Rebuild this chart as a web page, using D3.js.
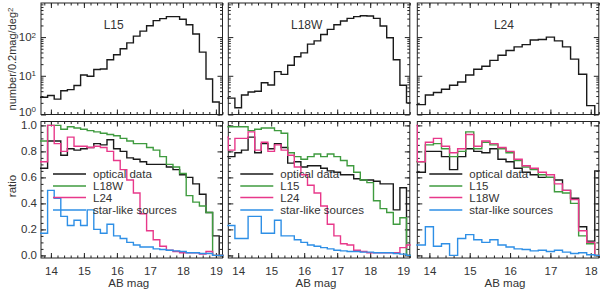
<!DOCTYPE html>
<html><head><meta charset="utf-8">
<script src="https://cdn.jsdelivr.net/npm/d3@7"></script>
<style>
body{margin:0;background:#fff}
svg{display:block}
text{font-family:"Liberation Sans",Arial,Helvetica,sans-serif;fill:#333;font-size:11.5px}
</style></head><body>
<svg id="c" width="600" height="292"></svg>
<script>
// bin centres (0.2 mag bins)
const centersA = [13.6,13.8,14.0,14.2,14.4,14.6,14.8,15.0,15.2,15.4,15.6,15.8,16.0,16.2,16.4,16.6,16.8,17.0,17.2,17.4,17.6,17.8,18.0,18.2,18.4,18.6,18.8,19.0,19.2];
const centersB = [13.6,13.8,14.0,14.2,14.4,14.6,14.8,15.0,15.2,15.4,15.6,15.8,16.0,16.2,16.4,16.6,16.8,17.0,17.2,17.4,17.6,17.8,18.0,18.2];

// number counts (number / 0.2 mag / deg^2)
const countL15  = [2.8,2.8,3.1,2.5,4.1,4.4,5.6,10.5,9.7,14.5,15,26,35,50,71,106,143,196,266,300,337,337,288,208,120,41,8.3,2.1,0];
const countL18W = [2.65,2.65,1.5,3.2,3.8,4.0,6.6,5.8,12.8,10.9,18.7,31,39,66,80,117,158,209,260,305,337,357,350,305,193,96,26,5.7,2.0];
const countL24  = [1.8,1.8,3.2,3.7,4.5,5.7,6.9,10.5,14.7,17.6,25,34,45,56,64,84,87,100,80,56,27,11,1.7,0];

// ratios, L15 panel
const optL15   = [0.67,0.67,0.88,0.88,0.77,0.82,0.81,0.82,0.83,0.86,0.85,0.89,0.82,0.80,0.75,0.74,0.72,0.70,0.70,0.70,0.68,0.66,0.62,0.60,0.55,0.47,0.33,0.15,0];
const l18wL15  = [0.88,0.88,1.0,1.0,0.97,0.99,0.98,0.97,0.96,0.95,0.94,0.93,0.92,0.90,0.88,0.86,0.86,0.83,0.81,0.76,0.70,0.68,0.63,0.46,0.41,0.38,0.33,0,0];
const l24L15   = [0.72,0.72,1.0,0.86,0.80,0.91,0.84,0.84,0.83,0.84,0.83,0.80,0.73,0.66,0.58,0.48,0.32,0.19,0.12,0.07,0.04,0.03,0.02,0.02,0.02,0.01,0.03,0,0];
const starL15  = [0.17,0.17,0.50,0.44,0.30,0.23,0.27,0.23,0.35,0.20,0.17,0.24,0.15,0.13,0.10,0.08,0.065,0.065,0.05,0.045,0.04,0.035,0.03,0.02,0.02,0.015,0.015,0,0];
// ratios, L18W panel
const optL18W  = [0.76,0.76,0.79,0.81,0.91,0.79,0.86,0.82,0.86,0.83,0.71,0.72,0.68,0.69,0.69,0.67,0.65,0.64,0.62,0.62,0.59,0.58,0.58,0.57,0.55,0.55,0.35,0.52,0];
const l15L18W  = [0.99,0.99,0.99,0.99,0.96,0.97,0.98,0.98,0.96,0.94,0.79,0.76,0.74,0.76,0.78,0.76,0.78,0.76,0.73,0.69,0.64,0.58,0.56,0.42,0.36,0.33,0.24,0.29,0];
const l24L18W  = [0.91,0.81,0.90,0.90,0.95,0.81,0.87,0.80,0.85,0.81,0.77,0.68,0.62,0.54,0.48,0.38,0.24,0.15,0.09,0.08,0.04,0.03,0.02,0.02,0.02,0.02,0.02,0.06,0.08];
const starL18W = [0.23,0.23,0.13,0.13,0.30,0.30,0.17,0.17,0.27,0.15,0.15,0.12,0.10,0.08,0.07,0.06,0.05,0.04,0.035,0.03,0.03,0.025,0.025,0.02,0.02,0.02,0.015,0.01,0];
// ratios, L24 panel
const optL24   = [0.64,0.64,0.80,0.80,0.76,0.66,0.76,0.82,0.80,0.79,0.82,0.74,0.72,0.67,0.64,0.62,0.60,0.60,0.58,0.50,0.44,0.22,0.11,0.65];
const l15L24   = [0.72,0.72,0.85,0.86,0.82,0.76,0.80,0.95,0.82,0.87,0.85,0.82,0.79,0.73,0.68,0.66,0.62,0.60,0.49,0.48,0.40,0.15,0.09,0];
const l18wL24  = [1.0,0.72,0.87,0.90,0.84,0.79,0.82,0.93,0.84,0.88,0.86,0.83,0.80,0.74,0.69,0.67,0.64,0.62,0.55,0.50,0.43,0.19,0.10,0];
const starL24  = [0.08,0.08,0.22,0.07,0.09,0.0,0.13,0.16,0.12,0.10,0.12,0.08,0.065,0.05,0.045,0.035,0.04,0.03,0.04,0.025,0.015,0.02,0.005,0];

const xTicksA = [14,15,16,17,18,19];
const xTicksB = [14,15,16,17,18];
const ratioTicks = [0.0,0.2,0.4,0.6,0.8,1.0];
const logTicks = [1,10,100];

const colors = ["#1a1a1a","#3f9b3f","#e8388a","#2e8fe6"];

const panels = [
  {x0:41,    dom:[13.7,19.2], ticks:xTicksA, centers:centersA, counts:countL15,  label:"L15",
   series:[optL15,l18wL15,l24L15,starL15],   names:["optical data","L18W","L24","star-like sources"]},
  {x0:228.3, dom:[13.7,19.2], ticks:xTicksA, centers:centersA, counts:countL18W, label:"L18W",
   series:[optL18W,l15L18W,l24L18W,starL18W], names:["optical data","L15","L24","star-like sources"]},
  {x0:417.3, dom:[13.7,18.2], ticks:xTicksB, centers:centersB, counts:countL24,  label:"L24",
   series:[optL24,l15L24,l18wL24,starL24],   names:["optical data","L15","L18W","star-like sources"]}
];

const W = 181.5;
const topY0 = 3, topY1 = 114.5;
const botY0 = 121.5, botY1 = 258;

const svg = d3.select("#c");
const defs = svg.append("defs");

function minorRange(a, b, step){
  const out=[]; for(let v=a; v<=b+1e-9; v+=step) out.push(+v.toFixed(3)); return out;
}

function axes(g, x, y, h, xMajor, xMinor, yMajor, yMinor, xLabels){
  const clean = s => { s.select(".domain").remove(); s.attr("font-size",null).attr("font-family",null).attr("color","#222"); };
  g.append("g").attr("transform",`translate(0,${h})`).call(d3.axisBottom(x).tickValues(xMajor).tickSize(-5).tickPadding(9).tickFormat(xLabels? d3.format("d") : "")).call(clean);
  g.append("g").attr("transform",`translate(0,${h})`).call(d3.axisBottom(x).tickValues(xMinor).tickSize(-2.5).tickFormat("")).call(clean);
  g.append("g").call(d3.axisTop(x).tickValues(xMajor).tickSize(-5).tickFormat("")).call(clean);
  g.append("g").call(d3.axisTop(x).tickValues(xMinor).tickSize(-2.5).tickFormat("")).call(clean);
  g.append("g").call(d3.axisLeft(y).tickValues(yMajor).tickSize(-5).tickFormat("")).call(clean);
  g.append("g").call(d3.axisLeft(y).tickValues(yMinor).tickSize(-2.5).tickFormat("")).call(clean);
  g.append("g").attr("transform",`translate(${W},0)`).call(d3.axisRight(y).tickValues(yMajor).tickSize(-5).tickFormat("")).call(clean);
  g.append("g").attr("transform",`translate(${W},0)`).call(d3.axisRight(y).tickValues(yMinor).tickSize(-2.5).tickFormat("")).call(clean);
  g.append("rect").attr("width",W).attr("height",h).attr("fill","none").attr("stroke","#222").attr("stroke-width",1);
}

function stepPoints(centers, vals){
  const pts=[];
  centers.forEach((c,i)=>{ pts.push([c-0.1, vals[i]]); pts.push([c+0.1, vals[i]]); });
  return pts;
}

const logMinor = [2,3,4,5,6,7,8,9,20,30,40,50,60,70,80,90,200,300,400,500,600,700];

panels.forEach((p, pi) => {
  const x = d3.scaleLinear().domain(p.dom).range([0, W]);
  const xMinor = minorRange(13.8, p.dom[1], 0.2);

  // ---------- top panel (counts, log) ----------
  const hT = topY1 - topY0;
  const yT = d3.scaleLog().domain([1, 760]).range([hT, 0]);
  const gT = svg.append("g").attr("transform",`translate(${p.x0},${topY0})`);
  defs.append("clipPath").attr("id",`ct${pi}`).append("rect").attr("x",-1).attr("y",-1).attr("width",W+2).attr("height",hT+2);
  axes(gT, x, yT, hT, p.ticks, xMinor, logTicks, logMinor, false);
  const lineT = d3.line().x(d=>x(d[0])).y(d=>yT(Math.max(d[1],0.1)));
  gT.append("path").attr("clip-path",`url(#ct${pi})`)
    .attr("d", lineT(stepPoints(p.centers, p.counts)))
    .attr("fill","none").attr("stroke","#1a1a1a").attr("stroke-width",1.4);
  gT.append("text").attr("x", x(15.6)).attr("y", 22).attr("dy","0.35em").style("font-size","12px").text(p.label);
  if (pi === 0) {
    logTicks.forEach((v,k)=>{
      const t = gT.append("text").attr("x",-5).attr("y",yT(v)).attr("dy", v===1 ? "0.1em" : "0.35em").attr("text-anchor","end");
      t.append("tspan").text("10");
      t.append("tspan").attr("dy","-0.45em").style("font-size","8px").text(String(k));
    });
  }

  // ---------- bottom panel (ratios) ----------
  const hB = botY1 - botY0;
  const yB = d3.scaleLinear().domain([-0.02, 1.03]).range([hB, 0]);
  const gB = svg.append("g").attr("transform",`translate(${p.x0},${botY0})`);
  defs.append("clipPath").attr("id",`cb${pi}`).append("rect").attr("x",-1).attr("y",-1).attr("width",W+2).attr("height",hB+2);
  axes(gB, x, yB, hB, p.ticks, xMinor, ratioTicks, minorRange(0,1,0.05), true);
  const lineB = d3.line().x(d=>x(d[0])).y(d=>yB(d[1]));
  p.series.forEach((s, si) => {
    gB.append("path").attr("clip-path",`url(#cb${pi})`)
      .attr("d", lineB(stepPoints(p.centers, s)))
      .attr("fill","none").attr("stroke",colors[si]).attr("stroke-width",1.4);
  });
  if (pi === 0) {
    ratioTicks.forEach(v=>{
      gB.append("text").attr("x",-4).attr("y",yB(v)).attr("dy","0.35em").attr("text-anchor","end").text(d3.format(".1f")(v));
    });
  }
  // legend
  const legY = [174, 186, 197.5, 210];
  p.names.forEach((n, k) => {
    const ly = legY[k] - botY0;
    gB.append("line").attr("x1",12).attr("x2",45).attr("y1",ly).attr("y2",ly).attr("stroke",colors[k]).attr("stroke-width",1.4);
    gB.append("text").attr("x",52).attr("y",ly).attr("dy","0.35em").text(n);
  });
  // x title
  svg.append("text").attr("x", p.x0 + W/2 - 3).attr("y", 283).attr("dy","0.35em").attr("text-anchor","middle").text("AB mag");
});

// y titles
const yt = svg.append("text").attr("transform","translate(16,59) rotate(-90)").attr("text-anchor","middle").style("font-size","11px");
yt.append("tspan").text("number/0.2mag/deg");
yt.append("tspan").attr("dy","-0.4em").style("font-size","8px").text("2");
svg.append("text").attr("transform","translate(16,186) rotate(-90)").attr("text-anchor","middle").text("ratio");
</script>
</body></html>
